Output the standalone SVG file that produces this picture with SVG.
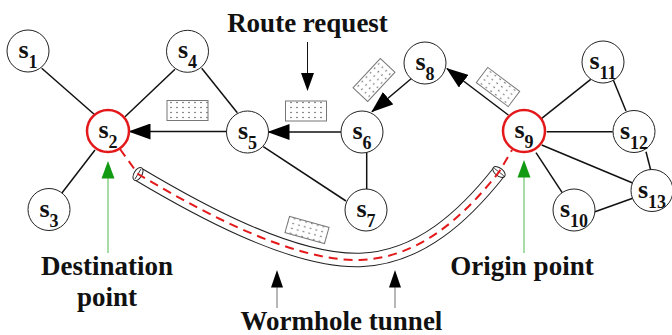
<svg xmlns="http://www.w3.org/2000/svg" width="672" height="335" viewBox="0 0 672 335">
<style>
.node circle{fill:#fff;stroke:#222;stroke-width:1}
.node.hl circle{stroke:#e3191b;stroke-width:2.5}
.lbl{font-family:"Liberation Serif","Times New Roman",serif;font-weight:bold;font-size:26px;fill:#111;text-anchor:middle}
.sub{font-size:18px}
.edge{stroke:#111;stroke-width:1.5;fill:none}
.arr{marker-end:url(#ah)}
.cap{font-family:"Liberation Serif","Times New Roman",serif;font-weight:bold;font-size:27px;fill:#111;text-anchor:middle}
.pkt{fill:url(#dots);stroke:#777;stroke-width:1}
</style>
<defs>
<pattern id="dots" width="6" height="5" patternUnits="userSpaceOnUse"><rect width="6" height="5" fill="#fff"/><circle cx="3" cy="2.5" r="0.65" fill="#333"/></pattern>
<marker id="ah" markerUnits="userSpaceOnUse" markerWidth="22" markerHeight="16" refX="21" refY="8" orient="auto"><path d="M0,0 L22,8 L0,16 z" fill="#000"/></marker>
</defs>
<g id="tunnel">
<path d="M138,174 C190,205 290,262 360,260 C420,258 465,215 499,172" fill="none" stroke="#222" stroke-width="14.5"/>
<path d="M138,174 C190,205 290,262 360,260 C420,258 465,215 499,172" fill="none" stroke="#fff" stroke-width="12.5"/>
<ellipse cx="0" cy="0" rx="4" ry="7.2" transform="translate(138,174) rotate(31)" fill="#fff" stroke="#222" stroke-width="1"/>
<line x1="0" y1="-6" x2="0" y2="6" transform="translate(138,174) rotate(31)" stroke="#222" stroke-width="0.8"/>
<ellipse cx="0" cy="0" rx="4" ry="7.2" transform="translate(499,172) rotate(-52)" fill="#fff" stroke="#222" stroke-width="1"/>
<line x1="0" y1="-6" x2="0" y2="6" transform="translate(499,172) rotate(-52)" stroke="#222" stroke-width="0.8"/>
<path d="M120,149 L138,174 C190,205 290,262 360,260 C420,258 465,215 499,172 L512,150" fill="none" stroke="#e3191b" stroke-width="2" stroke-dasharray="9 6"/>
</g>
<g id="connectors">
<line class="edge" x1="41.7" y1="68.3" x2="95" y2="115"/>
<line class="edge" x1="175" y1="69.3" x2="125" y2="116.7"/>
<line class="edge" x1="61.7" y1="193.3" x2="95" y2="150"/>
<line class="edge" x1="201.7" y1="68.3" x2="237.3" y2="112.7"/>
<line class="edge arr" x1="226.5" y1="131.5" x2="129.5" y2="131.5"/>
<line class="edge arr" x1="341" y1="132" x2="268.5" y2="132"/>
<line class="edge" x1="263.3" y1="146.7" x2="346" y2="201"/>
<line class="edge" x1="366.7" y1="151.7" x2="366.7" y2="190"/>
<line class="edge arr" x1="411.7" y1="78.3" x2="372" y2="111.7"/>
<line class="edge arr" x1="508.3" y1="115" x2="447" y2="68.5"/>
<line class="edge" x1="541.7" y1="118.3" x2="590.7" y2="79.3"/>
<line class="edge" x1="546.7" y1="131.7" x2="612.7" y2="131.7"/>
<line class="edge" x1="541.7" y1="145" x2="633.3" y2="183.3"/>
<line class="edge" x1="536" y1="152.7" x2="562.7" y2="193.3"/>
<line class="edge" x1="613.3" y1="80" x2="626" y2="111"/>
<line class="edge" x1="646" y1="151.7" x2="650.7" y2="170"/>
<line class="edge" x1="595" y1="211.7" x2="632.7" y2="198.3"/>
</g>
<g id="s1" class="node"><circle cx="28" cy="51" r="21"/><text class="lbl" x="28" y="58">s<tspan class="sub" dy="10">1</tspan></text></g>
<g id="s2" class="node hl"><circle cx="108" cy="131" r="21"/><text class="lbl" x="108" y="138">s<tspan class="sub" dy="10">2</tspan></text></g>
<g id="s3" class="node"><circle cx="49" cy="209.5" r="21"/><text class="lbl" x="49" y="216.5">s<tspan class="sub" dy="10">3</tspan></text></g>
<g id="s4" class="node"><circle cx="187.5" cy="51.3" r="21"/><text class="lbl" x="187.5" y="58.3">s<tspan class="sub" dy="10">4</tspan></text></g>
<g id="s5" class="node"><circle cx="247.5" cy="132" r="21"/><text class="lbl" x="247.5" y="139">s<tspan class="sub" dy="10">5</tspan></text></g>
<g id="s6" class="node"><circle cx="362" cy="132" r="21"/><text class="lbl" x="362" y="139">s<tspan class="sub" dy="10">6</tspan></text></g>
<g id="s7" class="node"><circle cx="366" cy="210" r="21"/><text class="lbl" x="366" y="217">s<tspan class="sub" dy="10">7</tspan></text></g>
<g id="s8" class="node"><circle cx="425" cy="63" r="21"/><text class="lbl" x="425" y="70">s<tspan class="sub" dy="10">8</tspan></text></g>
<g id="s9" class="node hl"><circle cx="524" cy="131" r="21"/><text class="lbl" x="524" y="138">s<tspan class="sub" dy="10">9</tspan></text></g>
<g id="s10" class="node"><circle cx="574" cy="210" r="21"/><text class="lbl" x="574" y="217">s<tspan class="sub" dy="10">10</tspan></text></g>
<g id="s11" class="node"><circle cx="603" cy="62" r="21"/><text class="lbl" x="603" y="69">s<tspan class="sub" dy="10">11</tspan></text></g>
<g id="s12" class="node"><circle cx="634" cy="131.5" r="21"/><text class="lbl" x="634" y="138.5">s<tspan class="sub" dy="10">12</tspan></text></g>
<g id="s13" class="node"><circle cx="652" cy="190.5" r="21"/><text class="lbl" x="652" y="197.5">s<tspan class="sub" dy="10">13</tspan></text></g>
<g id="packets">
<rect class="pkt" x="167" y="100.5" width="41" height="20"/>
<rect class="pkt" x="285.5" y="101" width="41" height="20"/>
<rect class="pkt" x="-20" y="-10" width="40" height="20" transform="translate(374,80) rotate(-47)"/>
<rect class="pkt" x="-20" y="-9.5" width="40" height="19" transform="translate(498,87) rotate(37)"/>
<rect class="pkt" x="-20.5" y="-8.5" width="41" height="17" transform="translate(307,230) rotate(15.5)"/>
</g>
<g id="pointers">
<line x1="307.5" y1="42" x2="307.5" y2="75" stroke="#111" stroke-width="1"/>
<polygon points="301,73 314,73 307.5,91" fill="#000"/>
<line x1="108" y1="253" x2="108" y2="176" stroke="#6cc46c" stroke-width="1.2"/>
<polygon points="101.5,178.5 114.5,178.5 108,161" fill="#129a12"/>
<line x1="524" y1="253" x2="524" y2="175" stroke="#6cc46c" stroke-width="1.2"/>
<polygon points="517.5,177.5 530.5,177.5 524,160" fill="#129a12"/>
<line x1="277" y1="308" x2="277" y2="285" stroke="#888" stroke-width="1.2"/>
<polygon points="271,287.5 283,287.5 277,270" fill="#000"/>
<line x1="395" y1="308" x2="395" y2="285" stroke="#888" stroke-width="1.2"/>
<polygon points="389,287.5 401,287.5 395,270" fill="#000"/>
</g>
<g id="labels">
<text class="cap" x="307.5" y="32">Route request</text>
<text class="cap" x="107" y="275">Destination</text>
<text class="cap" x="107" y="306">point</text>
<text class="cap" x="522" y="275">Origin point</text>
<text class="cap" x="341.5" y="330">Wormhole tunnel</text>
</g>
</svg>
